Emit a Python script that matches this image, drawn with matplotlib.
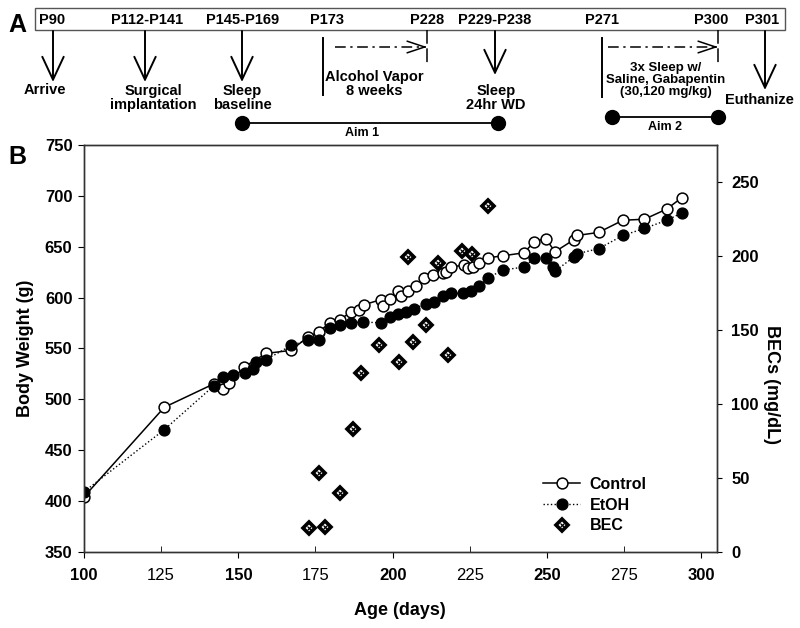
import matplotlib.pyplot as plt
from matplotlib.legend_handler import HandlerTuple
from matplotlib.patches import Rectangle

plt.rcParams['font.family'] = ['Liberation Sans', 'DejaVu Sans']

# Body weight (g) by age (days)
ctrl_age = [100, 126, 142, 145, 147, 152, 159, 167, 172.5, 176, 179.6, 182.8, 186.6,
            189.2, 190.8, 196.3, 196.8, 199, 201.6, 202.7, 204.9, 207.6, 210.3, 213,
            216.2, 217.3, 218.9, 223.2, 224.3, 225.9, 228.1, 230.8, 235.6, 242.6,
            245.9, 249.6, 252.6, 258.8, 259.7, 266.7, 274.6, 281.6, 288.8, 293.6]
ctrl_wt = [404, 492, 515, 510, 516, 532, 545, 548, 561, 566, 575, 578, 586,
           588, 593, 598, 592, 599, 606, 601, 606, 611, 619, 622,
           624, 625, 630, 632, 629, 630, 634, 639, 641, 644,
           655, 658, 645, 657, 661, 664, 676, 677, 687, 698]

etoh_age = [100, 126, 142, 145, 148.3, 152.1, 154.8, 155.8, 159.1, 167.2, 172.5, 176.3,
            179.6, 182.8, 186.6, 190.3, 196.3, 199, 201.6, 204.3, 207, 210.8, 213.5,
            216.2, 218.9, 222.7, 225.4, 228.1, 230.8, 235.6, 242.6, 245.9, 249.6,
            251.8, 252.6, 258.8, 259.7, 266.7, 274.6, 281.6, 288.8, 293.6]
etoh_wt = [409, 470, 513, 522, 524, 526, 530, 537, 539, 553, 558, 558,
           570, 573, 575, 576, 575, 581, 584, 586, 589, 594, 596,
           601, 604, 604, 606, 611, 619, 627, 630, 639, 639,
           630, 626, 640, 643, 648, 661, 668, 676, 683]

# Blood ethanol concentrations (mg/dL)
bec_age = [172.9, 176, 178, 183, 187.1, 189.8, 195.7, 202, 204.9, 206.7, 210.8,
           214.6, 217.9, 222.5, 225.7, 230.8]
bec_val = [16, 53, 16.5, 40, 83, 121, 140, 128, 199, 142, 153,
           195, 133, 203, 201, 234]

# Timeline (panel A)
tl_days = ['P90', 'P112-P141', 'P145-P169', 'P173', 'P228', 'P229-P238', 'P271', 'P300', 'P301']
tl_events = ['Arrive', 'Surgical\nimplantation', 'Sleep\nbaseline', 'Alcohol Vapor\n8 weeks',
             'Sleep\n24hr WD', '3x Sleep w/\nSaline, Gabapentin\n(30,120 mg/kg)', 'Euthanize']
tl_aims = ['Aim 1', 'Aim 2']

fig = plt.figure(figsize=(8, 6.28), dpi=100)

# ---- panel A: drawn in pixel space of an overlay axes
axA = fig.add_axes([0, 0, 1, 1])
axA.set_xlim(0, 800)
axA.set_ylim(628, 0)
axA.axis('off')

bold = dict(fontweight='bold', ha='center', va='center')
axA.add_patch(Rectangle((35, 8), 750, 22, fill=False, lw=1.0, ec='#555555'))
day_x = [52.5, 147, 243, 327, 427, 495, 601.5, 711, 762]
for lab, x in zip(tl_days, day_x):
    axA.text(x, 19.5, lab, fontsize=10.5, **bold)

arrow_kw = dict(arrowstyle='->, head_width=0.35, head_length=0.75', lw=1.4, color='black',
                mutation_scale=22, shrinkA=0, shrinkB=0)
for x, yend in [(53, 82), (145, 82), (242, 82), (495, 75), (765, 90)]:
    axA.annotate('', xy=(x, yend), xytext=(x, 31), arrowprops=arrow_kw)

ev_pos = [(45, 90), (153, 98), (242, 98), (374, 84), (496, 98), (666, 80), (759, 100)]
ev_size = [10.5, 10.5, 10.5, 10.5, 10.5, 9.5, 10.5]
for lab, (x, y), fs in zip(tl_events, ev_pos, ev_size):
    axA.text(x, y, lab, fontsize=fs, linespacing=1.05, **bold)

# start bars, dash-dot spans and end ticks
for x, y0, y1 in [(323, 38, 95), (601.7, 38, 97)]:
    axA.plot([x, x], [y0, y1], color='black', lw=1.4)
for x0, x1 in [(335, 427), (608, 718)]:
    axA.plot([x0, x1 - 4], [47, 47], color='black', lw=1.1, dashes=(7, 3, 1.5, 3))
    axA.annotate('', xy=(x1, 47), xytext=(x1 - 3, 47),
                 arrowprops=dict(arrowstyle='->, head_width=0.3, head_length=0.9',
                                 lw=1.1, color='black', mutation_scale=14,
                                 shrinkA=0, shrinkB=0))
for x in [427, 718]:
    axA.plot([x, x], [30, 64], color='black', lw=1.1, dashes=(9, 3))

for lab, (x0, x1, y), ty in zip(tl_aims, [(242, 498, 123), (612, 718, 117)], [133, 127]):
    axA.plot([x0, x1], [y, y], color='black', lw=1.3, marker='o', ms=10)
    axA.text((x0 + x1) / 2 if lab == 'Aim 2' else 362, ty, lab, fontsize=9, **bold)

axA.text(17, 25, 'A', fontsize=18, **bold)
axA.text(17, 157, 'B', fontsize=18, **bold)

# ---- panel B
ax = fig.add_axes([0.105, 0.1215, 0.7909, 0.6476])
l1, = ax.plot(ctrl_age, ctrl_wt, '-o', color='black', lw=1.1, mfc='white', mec='black',
              mew=1.1, ms=7.8, label='Control')
l2, = ax.plot(etoh_age, etoh_wt, ':o', color='black', lw=1.0, mfc='black', mec='black',
              ms=7.8, label='EtOH')
ax.set_xlim(100, 305)
ax.set_ylim(350, 750)
ax.set_xticks([100, 150, 200, 250, 300])
ax.set_xticks([125, 175, 225, 275], minor=True)
ax.set_xticklabels(['100', '150', '200', '250', '300'], fontweight='bold', fontsize=12)
ax.set_xticklabels(['125', '175', '225', '275'], minor=True, fontsize=12)
ax.tick_params(axis='x', which='major', direction='out', length=4, pad=7.5)
ax.tick_params(axis='x', which='minor', direction='in', length=4, pad=11.5)
ax.set_yticks(range(350, 751, 50))
ax.set_yticklabels([str(v) for v in range(350, 751, 50)], fontweight='bold', fontsize=12)
ax.tick_params(axis='y', direction='out', length=4.3, pad=4)
ax.set_xlabel('Age (days)', fontsize=13, fontweight='bold', labelpad=14)
ax.set_ylabel('Body Weight (g)', fontsize=13, fontweight='bold', labelpad=8)

ax2 = ax.twinx()
b1, = ax2.plot(bec_age, bec_val, 'D', ls='none', mfc='white', mec='black', mew=2.6, ms=5.8)
b2, = ax2.plot(bec_age, bec_val, 'x', ls='none', color='black', mew=0.9, ms=2.2)
ax2.set_ylim(0, 275)
ax2.set_yticks(range(0, 251, 50))
ax2.set_yticklabels([str(v) for v in range(0, 251, 50)], fontweight='bold', fontsize=12)
ax2.tick_params(axis='y', direction='out', length=3.6, pad=7)
ax2.set_ylabel('BECs (mg/dL)', fontsize=13, fontweight='bold', rotation=270)
ax2.yaxis.set_label_coords(1.1, 0.41)

for a in (ax, ax2):
    for s in a.spines.values():
        s.set_linewidth(1.0)
        s.set_color('#333333')

ax2.legend([l1, l2, (b1, b2)], ['Control', 'EtOH', 'BEC'],
           handler_map={tuple: HandlerTuple(ndivide=1)},
           loc='upper left', bbox_to_anchor=(0.679, 0.2404), bbox_transform=fig.transFigure,
           frameon=False, borderpad=0, borderaxespad=0, handlelength=2.3,
           handletextpad=0.6, labelspacing=0.35, prop=dict(weight='bold', size=11.5))

fig.savefig('out.png', dpi=100)
